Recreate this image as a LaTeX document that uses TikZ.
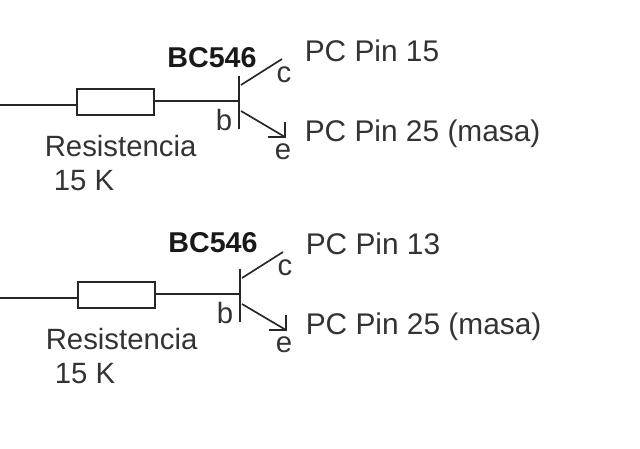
\documentclass[tikz,border=0pt]{standalone}
\usepackage{fontspec}
\setmainfont{Liberation Sans}
\tikzset{
  wire/.style={line width=1.25pt, black!85},
  resbox/.style={draw, line width=1.25pt, black!85, minimum width=57.75pt, minimum height=19.5pt, inner sep=0pt},
  restext/.style={font=\fontsize{22}{24}\selectfont, text=black!80, anchor=west, inner sep=0pt},
  pintext/.style={font=\fontsize{22.4}{24}\selectfont, text=black!80, anchor=west, inner sep=0pt},
  legtext/.style={font=\fontsize{22}{24}\selectfont, text=black!80, inner sep=0pt},
  parttext/.style={font=\fontsize{21.5}{24}\selectfont\bfseries, text=black!90, inner sep=0pt}
}
\begin{document}
\begin{tikzpicture}[x=0.75pt, y=-0.75pt]
\useasboundingbox (0,0) rectangle (640,449);

% one circuit for each pin
\foreach \dx/\dy/\dt/\pin in {0/0/0/15, 1/193/185/13} {
  % resistor
  \coordinate (in\pin) at (0,105+\dy);
  \node[resbox] (res\pin) at (115.5+\dx,102+\dy) {};
  % transistor
  \coordinate (barup\pin) at (239+\dx,76+\dy);
  \coordinate (bardown\pin) at (239+\dx,129+\dy);
  \coordinate (base\pin) at (239+\dx,101+\dy);
  \coordinate (cin\pin) at (241+\dx,85+\dy);
  \coordinate (cout\pin) at (282+\dx,59+\dy);
  \coordinate (ein\pin) at (241+\dx,111+\dy);
  \coordinate (eout\pin) at (285+\dx,137+\dy);
  \coordinate (tipup\pin) at (285+\dx,122+\dy);
  \coordinate (tipleft\pin) at (268+\dx,137+\dy);

  \draw[wire] (in\pin) -- (res\pin.west |- in\pin);
  \draw[wire] (res\pin.east |- base\pin) -- (base\pin);
  \draw[wire, line width=1.5pt] (barup\pin) -- (bardown\pin);
  \draw[wire] (cin\pin) -- (cout\pin);
  \draw[wire] (ein\pin) -- (eout\pin);
  \draw[wire] (tipup\pin) -- (eout\pin) -- (tipleft\pin);

  % labels
  \node[parttext] (part\pin) at (212+\dx,58+\dt) {BC546};
  \node[legtext] (c\pin) at (284+\dx,75+\dy) {c};
  \node[legtext] (b\pin) at (224+\dx,120+\dy) {b};
  \node[legtext] (e\pin) at (283+\dx,152+\dy) {e};
  \node[pintext] (pin\pin) at (304.5+\dx,51+\dy) {PC Pin \pin};
  \node[pintext] (gnd\pin) at (304.5+\dx,134+\dy) {PC Pin 25 (masa)};
  \node[restext] (resname\pin) at (44.5+\dx,146+\dy) {Resistencia};
  \node[restext] (resval\pin) at (53.5+\dx,181+\dy) {15 K};
}

\end{tikzpicture}
\end{document}
